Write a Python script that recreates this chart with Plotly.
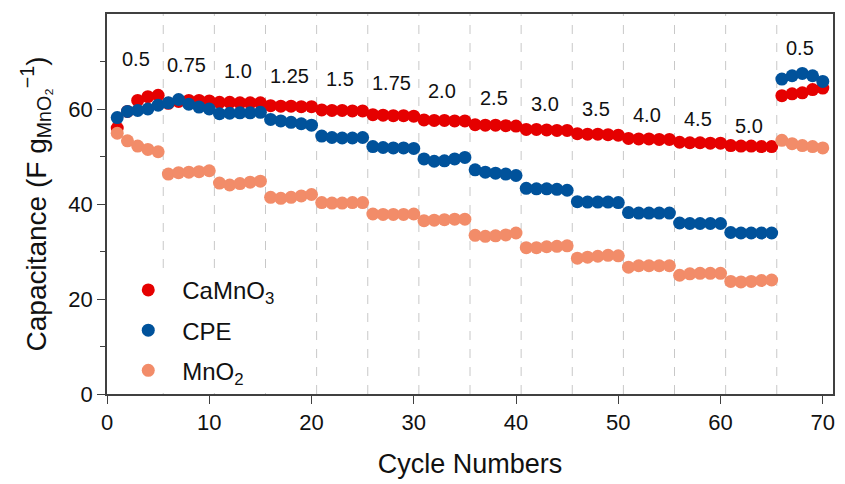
import plotly.graph_objects as go

cycles = list(range(1, 71))

camno3 = [56.0, 59.5, 61.8, 62.6, 62.9,
          61.2, 61.6, 61.8, 61.8, 61.7,
          61.4, 61.4, 61.3, 61.3, 61.3,
          60.7, 60.6, 60.6, 60.5, 60.5,
          59.8, 59.7, 59.7, 59.6, 59.6,
          58.8, 58.7, 58.6, 58.6, 58.5,
          57.7, 57.6, 57.6, 57.5, 57.5,
          56.7, 56.6, 56.6, 56.5, 56.4,
          55.7, 55.7, 55.6, 55.5, 55.5,
          54.8, 54.7, 54.7, 54.6, 54.5,
          53.8, 53.7, 53.7, 53.6, 53.6,
          53.0, 52.9, 52.9, 52.8, 52.8,
          52.3, 52.2, 52.2, 52.1, 52.1,
          62.8, 63.2, 63.4, 64.1, 64.4]

cpe = [58.2, 59.5, 59.7, 60.0, 60.8,
       61.3, 62.0, 61.0, 60.4, 60.0,
       59.0, 59.1, 59.2, 59.2, 59.3,
       57.8, 57.5, 57.2, 56.9, 56.6,
       54.3, 54.0, 53.9, 53.9, 54.0,
       52.1, 51.9, 51.8, 51.8, 51.7,
       49.5, 49.0, 49.1, 49.5, 49.8,
       47.2, 46.7, 46.5, 46.3, 46.0,
       43.3, 43.2, 43.2, 43.1, 42.9,
       40.5, 40.4, 40.4, 40.4, 40.3,
       38.2, 38.1, 38.1, 38.1, 38.1,
       36.0, 35.9, 35.9, 35.9, 35.9,
       34.0, 33.9, 33.9, 33.9, 33.9,
       66.3, 67.0, 67.5, 67.0, 65.8]

mno2 = [54.9, 53.3, 52.2, 51.5, 51.0,
        46.3, 46.6, 46.7, 46.8, 47.0,
        44.4, 44.0, 44.3, 44.6, 44.8,
        41.4, 41.2, 41.4, 41.7, 42.0,
        40.3, 40.2, 40.2, 40.3, 40.3,
        37.9, 37.8, 37.8, 37.8, 37.9,
        36.5, 36.6, 36.7, 36.8, 36.8,
        33.4, 33.2, 33.3, 33.5, 33.9,
        30.8, 30.8, 31.0, 31.1, 31.2,
        28.6, 28.8, 29.0, 29.2, 29.1,
        26.7, 27.0, 27.0, 27.0, 27.0,
        25.0, 25.3, 25.4, 25.4, 25.4,
        23.7, 23.6, 23.7, 23.9, 24.0,
        53.4, 52.7, 52.3, 52.1, 51.8]

rate_labels = ["0.5", "0.75", "1.0", "1.25", "1.5", "1.75", "2.0",
               "2.5", "3.0", "3.5", "4.0", "4.5", "5.0", "0.5"]
label_heights = [70.6, 69.3, 67.9, 66.9, 66.4, 65.5, 63.7,
                 62.3, 61.1, 59.9, 58.8, 57.8, 56.5, 72.8]
cycles_per_rate = 5

FONT = "Arial, Liberation Sans, sans-serif"
RED = "#E50000"
BLUE = "#00529B"
ORANGE = "#F28C69"

fig = go.Figure()
series = [("CaMnO<sub>3</sub>", camno3, RED),
          ("CPE", cpe, BLUE),
          ("MnO<sub>2</sub>", mno2, ORANGE)]
for i, (name, vals, col) in enumerate(series):
    fig.add_trace(go.Scatter(
        x=cycles, y=vals, mode="markers", name=name,
        legendgroup=f"g{i}",
        marker=dict(size=13, color=col, line=dict(width=0)),
    ))

# dashed separators between rate groups
n_groups = len(rate_labels)
for g in range(1, n_groups):
    xb = g * cycles_per_rate + 0.5
    fig.add_shape(type="line", x0=xb, x1=xb, y0=0, y1=80, xref="x", yref="y",
                  line=dict(color="#C8C8C8", width=1, dash="dash"), layer="below")

for g, (lab, yh) in enumerate(zip(rate_labels, label_heights)):
    xc = g * cycles_per_rate + (cycles_per_rate + 1) / 2 - 0.2
    fig.add_annotation(x=xc, y=yh, text=lab, showarrow=False,
                       font=dict(family=FONT, size=20, color="#111111"))

axis_common = dict(showline=True, linecolor="#404040", linewidth=1.6, mirror=True,
                   ticks="outside", ticklen=8, tickwidth=1.4, tickcolor="#404040",
                   showgrid=False, zeroline=False,
                   tickfont=dict(family=FONT, size=22, color="#111111"))

fig.update_layout(
    width=845, height=484,
    margin=dict(l=107, r=10, t=14, b=88),
    paper_bgcolor="white", plot_bgcolor="white",
    font=dict(family=FONT, color="#111111"),
    xaxis=dict(range=[0, 71], tickvals=[0, 10, 20, 30, 40, 50, 60, 70],
               title=dict(text="Cycle Numbers", font=dict(family=FONT, size=27), standoff=20),
               **axis_common),
    yaxis=dict(range=[0, 80], tickvals=[0, 20, 40, 60],
               minor=dict(ticks="outside", ticklen=5, tickwidth=1.2, tickcolor="#404040",
                          tickvals=[10, 30, 50, 70]),
               title=dict(text="Capacitance (F g<sub>MnO₂</sub><sup>−1</sup>)",
                          font=dict(family=FONT, size=28), standoff=14),
               **axis_common),
    showlegend=True,
    legend=dict(x=0.01, y=0.003, xanchor="left", yanchor="bottom",
                bgcolor="white", borderwidth=0,
                font=dict(family=FONT, size=24, color="#111111"),
                tracegroupgap=6, itemwidth=58),
)

fig.write_html("out.html")
